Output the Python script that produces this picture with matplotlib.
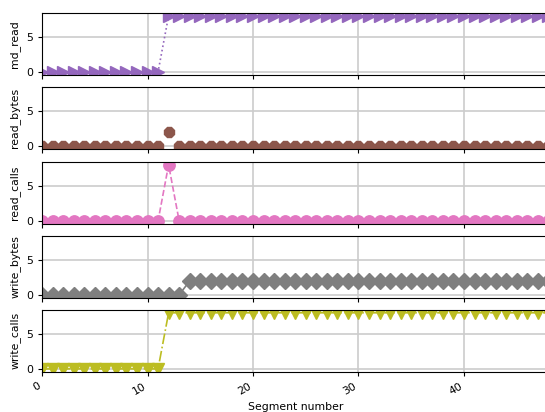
import numpy as np
import matplotlib
matplotlib.use("Agg")
import matplotlib.pyplot as plt

# Per-segment counters
segments = list(range(0, 49))
md_read = [0] * 12 + [8] * 37
read_bytes = [0] * 12 + [2] + [0] * 36
read_calls = [0] * 12 + [8] + [0] * 36
write_bytes = [0] * 14 + [2] * 35
write_calls = [0] * 12 + [8] * 37

series_names = ["md_read", "read_bytes", "read_calls", "write_bytes", "write_calls"]
series_values = [md_read, read_bytes, read_calls, write_bytes, write_calls]
colors = ["tab:purple", "tab:brown", "tab:pink", "tab:gray", "tab:olive"]
markers = [">", "8", "o", "D", "v"]
linestyles = [":", "None", "--", "-", "-."]
marker_sizes = [8.2, 8.2, 8.2, 8.6, 8.2]

plt.rcParams["font.size"] = 7.8
plt.rcParams["axes.linewidth"] = 0.8
plt.rcParams["xtick.major.width"] = 0.8
plt.rcParams["ytick.major.width"] = 0.8
plt.rcParams["xtick.major.size"] = 3
plt.rcParams["ytick.major.size"] = 3

fig = plt.figure(figsize=(5.45, 4.12), dpi=100)
W, H = 545, 412
left_px = 42
px_per_unit = 10.55
xmax = 48
width_px = xmax * px_per_unit
tops = [13, 87, 162, 236, 310]
height_px = 61.7

axes = []
for i, (name, vals) in enumerate(zip(series_names, series_values)):
    top = tops[i]
    rect = [left_px / W, 1 - (top + height_px) / H, width_px / W, height_px / H]
    ax = fig.add_axes(rect, sharex=axes[0] if axes else None,
                      sharey=axes[0] if axes else None)
    ax.plot(segments, vals, color=colors[i], marker=markers[i],
            linestyle=linestyles[i], markersize=marker_sizes[i],
            linewidth=1.2)
    ax.set_ylabel(name)
    ax.grid(True, color="#cccccc", linewidth=1.2)
    ax.set_axisbelow(True)
    ax.set_yticks([0, 5])
    if i < 4:
        ax.tick_params(labelbottom=False)
    axes.append(ax)

axes[0].set_xlim(0, xmax)
axes[0].set_ylim(-0.4, 8.4)
axes[-1].set_xlabel("Segment number")
for lab in axes[-1].get_xticklabels():
    lab.set_rotation(30)
    lab.set_ha("right")

fig.savefig("out.png", dpi=100)
